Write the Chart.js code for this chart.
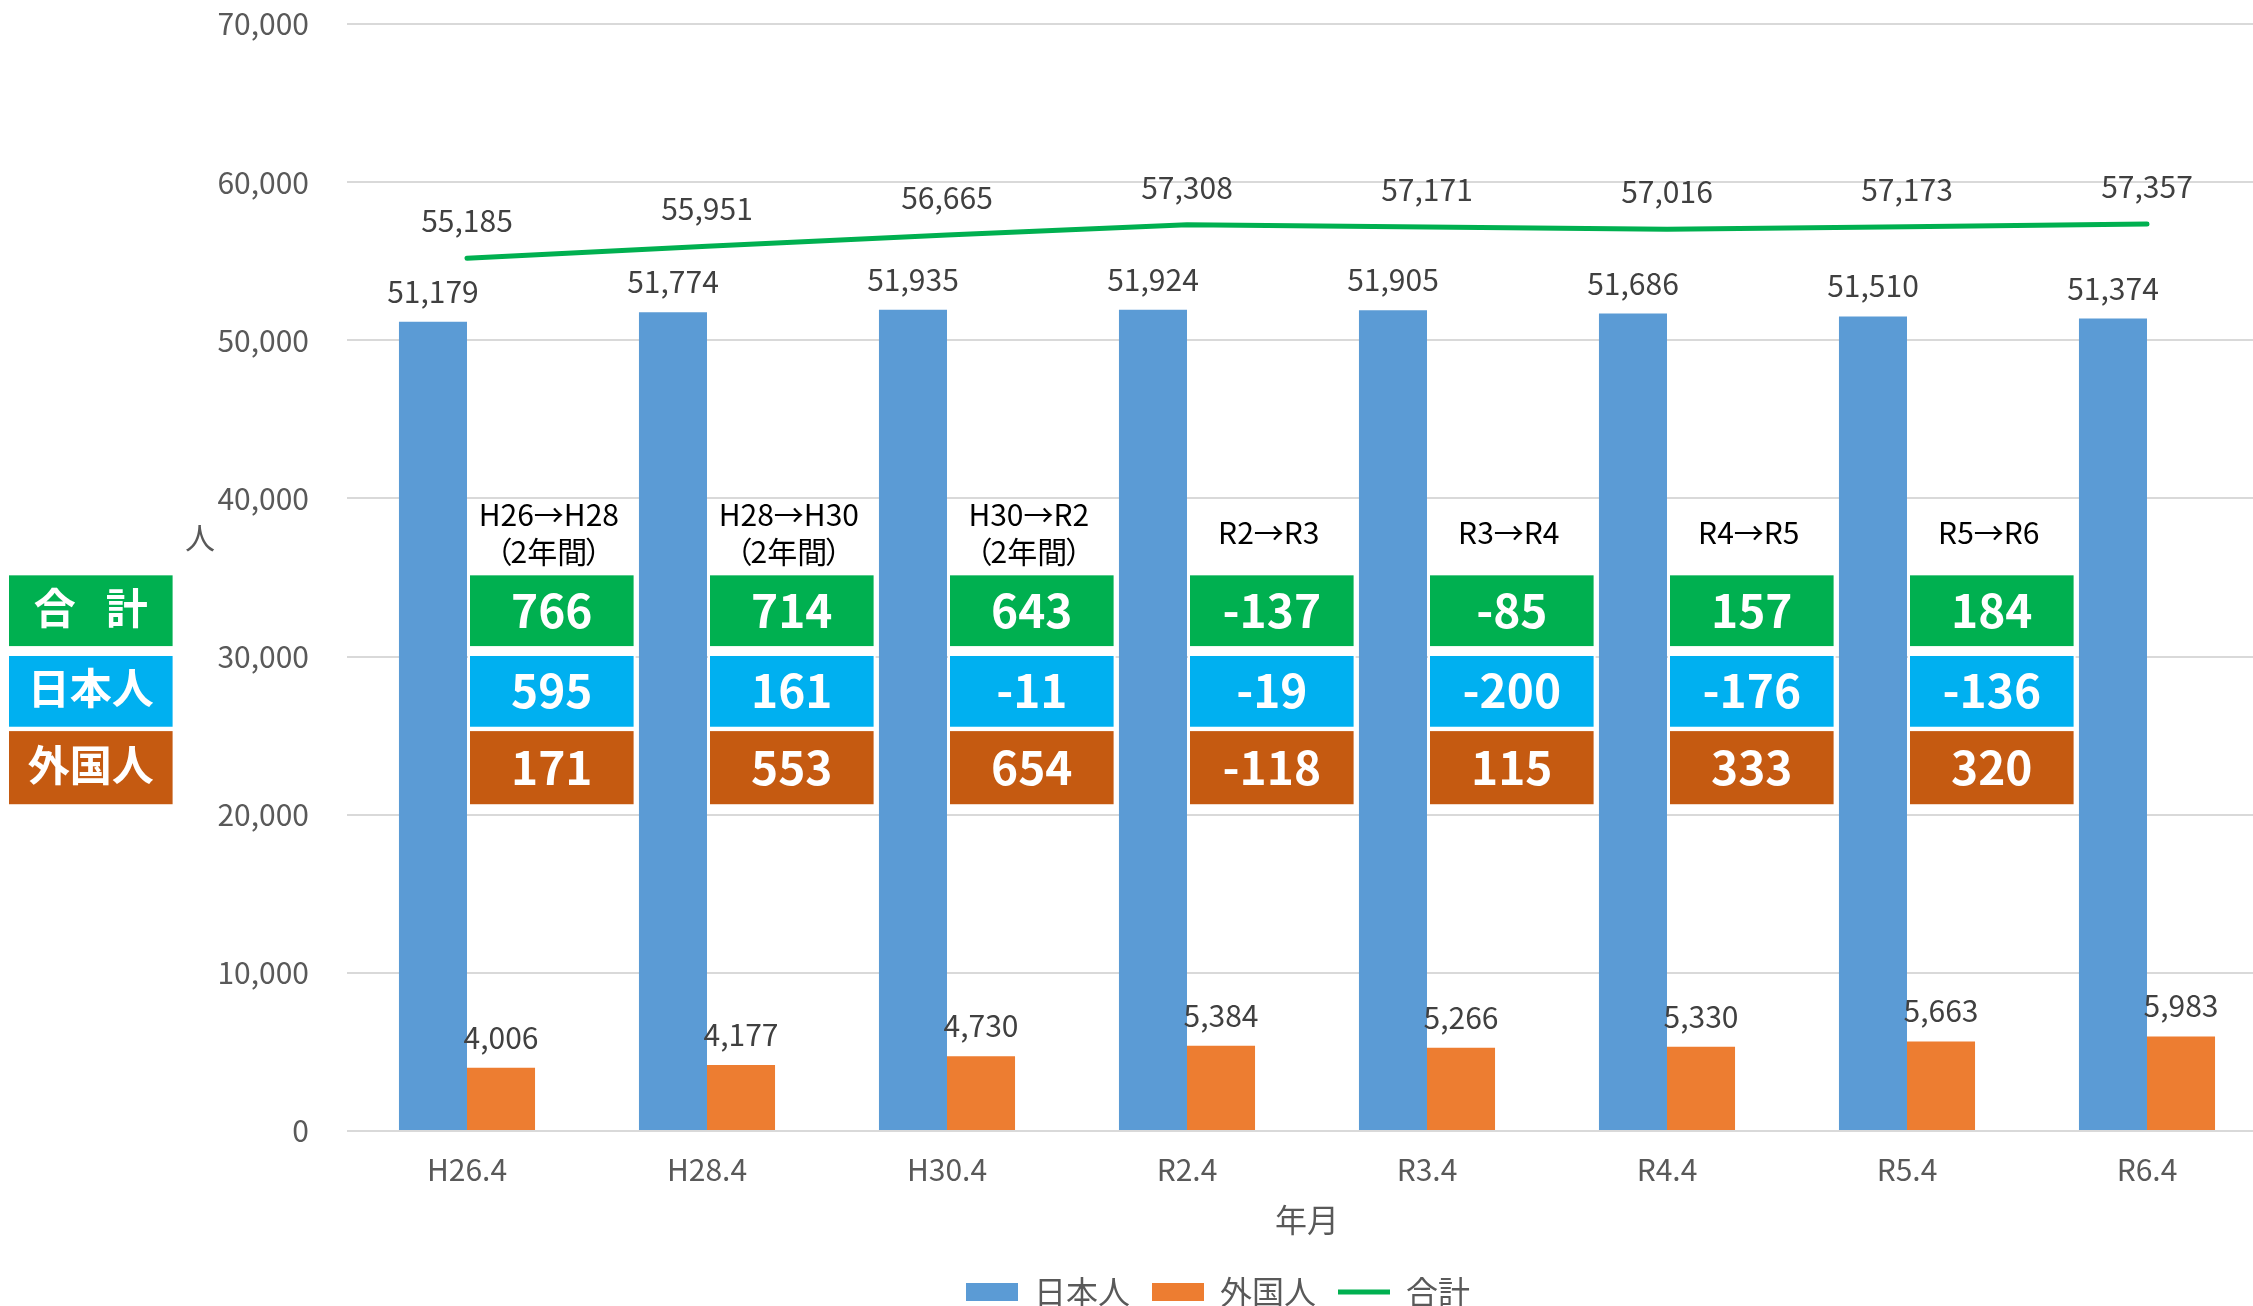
<!DOCTYPE html>
<html lang="ja">
<head>
<meta charset="utf-8">
<title>人口の推移</title>
<script src="https://cdn.jsdelivr.net/npm/chart.js@4.4.1/dist/chart.umd.min.js"></script>
<style>
  html, body { margin: 0; padding: 0; background: #fff; overflow: hidden; }
  #wrap { width: 2253px; height: 1306px; overflow: hidden; }
  canvas { display: block; }
</style>
</head>
<body>
<div id="wrap"><canvas id="chart" width="2270" height="1306"></canvas></div>
<script>
const FONT = "'Noto Sans CJK JP', 'Noto Sans', sans-serif";
const BLUE = "#5B9BD5";
const ORANGE = "#ED7D31";
const GREEN = "#00B050";
const CYAN = "#00B0F0";
const RUST = "#C55A11";

const yearLabels = ["H26.4", "H28.4", "H30.4", "R2.4", "R3.4", "R4.4", "R5.4", "R6.4"];
const japanese = [51179, 51774, 51935, 51924, 51905, 51686, 51510, 51374];
const foreign = [4006, 4177, 4730, 5384, 5266, 5330, 5663, 5983];
const total = [55185, 55951, 56665, 57308, 57171, 57016, 57173, 57357];
const yTicks = [0, 10000, 20000, 30000, 40000, 50000, 60000, 70000];

// change between two surveys, shown in the coloured tiles
const periods = ["H26→H28", "H28→H30", "H30→R2", "R2→R3", "R3→R4", "R4→R5", "R5→R6"];
const periodNotes = ["（2年間）", "（2年間）", "（2年間）", "", "", "", ""];
const totalChange = [766, 714, 643, -137, -85, 157, 184];
const japaneseChange = [595, 161, -11, -19, -200, -176, -136];
const foreignChange = [171, 553, 654, -118, 115, 333, 320];

Chart.defaults.font.family = FONT;
Chart.defaults.font.size = 30;
Chart.defaults.color = "#595959";

const fmt = (v) => v.toLocaleString("en-US");

// value labels above bars and line points
const valueLabels = {
  id: "valueLabels",
  afterDatasetsDraw(chart) {
    const ctx = chart.ctx;
    ctx.save();
    ctx.font = "30px " + FONT;
    ctx.fillStyle = "#404040";
    ctx.textAlign = "center";
    ctx.textBaseline = "alphabetic";
    chart.data.datasets.forEach((ds, di) => {
      const gap = ds.type === "line" ? 26 : 19;
      chart.getDatasetMeta(di).data.forEach((el, i) => {
        ctx.fillText(fmt(ds.data[i]), el.x, el.y - gap);
      });
    });
    ctx.restore();
  },
};

function tile(ctx, x, top, w, h, color) {
  ctx.fillStyle = color;
  ctx.fillRect(x, top, w, h);
  ctx.strokeStyle = "#fff";
  ctx.lineWidth = 2;
  ctx.strokeRect(x, top, w, h);
}

const changeRows = [
  { name: "合計", color: GREEN, values: totalChange, from: 35200, to: 30600 },
  { name: "日本人", color: CYAN, values: japaneseChange, from: 30100, to: 25500 },
  { name: "外国人", color: RUST, values: foreignChange, from: 25350, to: 20600 },
];

const changeTiles = {
  id: "changeTiles",
  afterLayout(chart) {
    // move the legend to where the original sits
    const lg = chart.legend;
    const pad = lg.options.labels.padding;
    const dx = 1218 - (lg.left + lg.right) / 2;
    const dy = 1292 - (lg.top + pad + 16);
    lg.left += dx; lg.right += dx;
    lg.top += dy; lg.bottom += dy;
  },
  afterDraw(chart) {
    const { ctx, chartArea, scales: { x, y } } = chart;
    const step = x.getPixelForValue(1) - x.getPixelForValue(0);
    const w = step * 0.69;
    ctx.save();
    ctx.textAlign = "center";

    changeRows.forEach((row) => {
      const top = y.getPixelForValue(row.from);
      const h = y.getPixelForValue(row.to) - top;
      const cy = top + h / 2;

      // row heading on the left
      tile(ctx, 8, top, w, h, row.color);
      ctx.fillStyle = "#fff";
      ctx.font = "bold 42px " + FONT;
      ctx.textBaseline = "middle";
      const hx = 8 + w / 2;
      if (row.name.length === 2) {
        ctx.fillText(row.name[0], hx - 36, cy - 3);
        ctx.fillText(row.name[1], hx + 36, cy - 3);
      } else {
        ctx.fillText(row.name, hx, cy - 3);
      }

      ctx.font = "bold 46px " + FONT;
      ctx.textBaseline = "alphabetic";
      row.values.forEach((v, i) => {
        const left = x.getPixelForValue(i) + 2;
        tile(ctx, left, top, w, h, row.color);
        ctx.fillStyle = "#fff";
        ctx.fillText(String(v), left + w / 2, cy + 17);
      });
    });

    // period headings
    const gTop = y.getPixelForValue(changeRows[0].from);
    ctx.fillStyle = "#000";
    ctx.font = "30px " + FONT;
    ctx.textBaseline = "middle";
    periods.forEach((p, i) => {
      const cx = x.getPixelForValue(i) + 2 + w / 2 - 3;
      const note = periodNotes[i];
      if (note) {
        ctx.textAlign = "center";
        ctx.fillText(p, cx, gTop - 60);
        const inner = note.slice(1, -1);
        const iw = ctx.measureText(inner).width;
        ctx.fillText(inner, cx, gTop - 23);
        ctx.textAlign = "right";
        ctx.fillText(note[0], cx - iw / 2 + 2, gTop - 23);
        ctx.textAlign = "left";
        ctx.fillText(note[note.length - 1], cx + iw / 2 - 2, gTop - 23);
      } else {
        ctx.textAlign = "center";
        ctx.fillText(p, cx, gTop - 42);
      }
    });

    // unit label of the value axis
    ctx.fillStyle = "#595959";
    ctx.font = "30px " + FONT;
    ctx.textAlign = "center";
    ctx.fillText("人", chartArea.left - 147, y.getPixelForValue(37500));
    ctx.restore();
  },
};

new Chart(document.getElementById("chart"), {
  type: "bar",
  data: {
    labels: yearLabels,
    datasets: [
      {
        label: "日本人",
        data: japanese,
        backgroundColor: BLUE,
        borderWidth: 0,
        pointStyle: "rect",
        categoryPercentage: 0.567,
        barPercentage: 1,
      },
      {
        label: "外国人",
        data: foreign,
        backgroundColor: ORANGE,
        borderWidth: 0,
        pointStyle: "rect",
        categoryPercentage: 0.567,
        barPercentage: 1,
      },
      {
        type: "line",
        label: "合計",
        data: total,
        borderColor: GREEN,
        backgroundColor: GREEN,
        borderWidth: 5,
        borderCapStyle: "round",
        pointRadius: 0,
        pointStyle: "line",
        tension: 0,
      },
    ],
  },
  options: {
    responsive: false,
    animation: false,
    devicePixelRatio: 1,
    layout: { padding: { top: 24, right: 3, left: 0, bottom: 0 } },
    plugins: {
      tooltip: { enabled: false },
      legend: {
        position: "bottom",
        labels: {
          usePointStyle: true,
          pointStyleWidth: 52,
          boxHeight: 18,
          padding: 22,
          font: { size: 32 },
          color: "#595959",
        },
      },
    },
    scales: {
      x: {
        grid: { display: false, drawTicks: false },
        border: { display: false },
        ticks: { padding: 21, font: { size: 30 }, color: "#595959" },
        title: {
          display: true,
          text: "年月",
          font: { size: 32 },
          color: "#595959",
          padding: { top: 0, bottom: 3 },
        },
        afterFit(s) {
          s.height = 111;
          s.paddingLeft = 0;
          s.paddingRight = 0;
        },
      },
      y: {
        min: 0,
        max: 70000,
        afterBuildTicks(s) {
          s.ticks = yTicks.map((v) => ({ value: v }));
        },
        grid: { color: "#D9D9D9", lineWidth: 2, drawTicks: false },
        border: { display: false },
        ticks: { padding: 38, font: { size: 30 }, color: "#595959", callback: (v) => fmt(v) },
        afterFit(s) {
          s.width = 347;
          s.paddingTop = 0;
          s.paddingBottom = 0;
        },
      },
    },
  },
  plugins: [valueLabels, changeTiles],
});
</script>
</body>
</html>
